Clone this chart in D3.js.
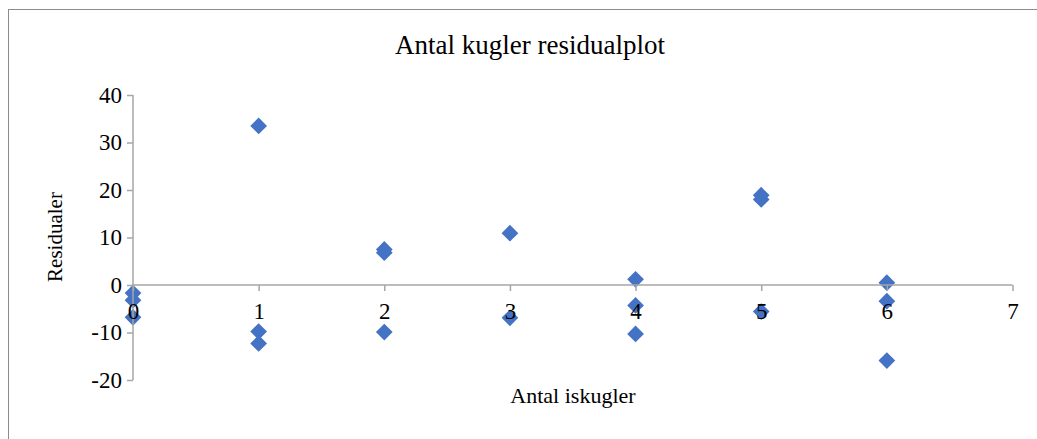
<!DOCTYPE html>
<html>
<head>
<meta charset="utf-8">
<script src="https://cdn.jsdelivr.net/npm/d3@7"></script>
<style>
  body { margin: 0; background: #fff; }
</style>
</head>
<body>
<div id="chart"></div>
<script>
// residual data: antal iskugler (x) and residual (y)
var xValues = [0, 0, 0, 1, 1, 1, 2, 2, 2, 3, 3, 4, 4, 4, 5, 5, 5, 6, 6, 6];
var residuals = [-1.7, -3.2, -6.8, 33.5, -9.8, -12.3, 7.5, 6.8, -9.9, 10.9, -6.9, 1.2, -4.3, -10.3, 18.9, 18.0, -5.6, 0.5, -3.4, -15.9];
var xTicks = [0, 1, 2, 3, 4, 5, 6, 7];
var yTicks = [-20, -10, 0, 10, 20, 30, 40];

var serif = "'Liberation Serif', 'Times New Roman', serif";
var width = 1037, height = 439;
var margin = {top: 95, right: 25, bottom: 59, left: 133};

var svg = d3.select("#chart").append("svg")
    .attr("width", width)
    .attr("height", height);

// chart border
svg.append("rect")
    .attr("x", 8.5).attr("y", 9.5)
    .attr("width", width + 10).attr("height", height + 10)
    .attr("fill", "none").attr("stroke", "#8c8c8c").attr("stroke-width", 1);

var x = d3.scaleLinear().domain([0, 7]).range([margin.left, 1012.5]);
var y = d3.scaleLinear().domain([-20, 40]).range([380, margin.top]);

// title
svg.append("text")
    .attr("x", 530).attr("y", 54)
    .attr("text-anchor", "middle")
    .attr("font-family", serif)
    .attr("font-size", 27)
    .text("Antal kugler residualplot");

// points first, labels are drawn over them
var diamond = d3.symbol().type(d3.symbolSquare).size(140);
svg.append("g").selectAll("path")
    .data(residuals)
    .enter().append("path")
    .attr("d", diamond)
    .attr("transform", function (d, i) {
        return "translate(" + x(xValues[i]) + "," + y(d) + ") rotate(45)";
    })
    .attr("fill", "#4472C4");

// y axis
var yAxis = svg.append("g")
    .attr("transform", "translate(" + x(0) + ",0)")
    .call(d3.axisLeft(y).tickValues(yTicks).tickSize(6).tickPadding(5).tickFormat(function (d) {
        return d < 0 ? "-" + Math.abs(d) : d;
    }));

// x axis at y = 0
var xAxis = svg.append("g")
    .attr("transform", "translate(0," + y(0) + ")")
    .call(d3.axisBottom(x).tickValues(xTicks).tickSize(6).tickPadding(12).tickFormat(d3.format("d")));

[yAxis, xAxis].forEach(function (a) {
    a.attr("font-family", serif).attr("font-size", 23);
    a.select(".domain").attr("stroke", "#a6a6a6").attr("stroke-width", 1.5);
    a.selectAll(".tick line").attr("stroke", "#a6a6a6").attr("stroke-width", 1.5);
    a.selectAll(".tick text").attr("fill", "#000");
});
yAxis.select(".domain").attr("d", "M0," + y(40) + "V" + y(-20));
xAxis.select(".domain").attr("d", "M" + x(0) + ",0H" + x(7));

// axis titles
svg.append("text")
    .attr("x", 573).attr("y", 403)
    .attr("text-anchor", "middle")
    .attr("font-family", serif)
    .attr("font-size", 22)
    .text("Antal iskugler");

svg.append("text")
    .attr("transform", "translate(62,237) rotate(-90)")
    .attr("text-anchor", "middle")
    .attr("font-family", serif)
    .attr("font-size", 21)
    .text("Residualer");
</script>
</body>
</html>
